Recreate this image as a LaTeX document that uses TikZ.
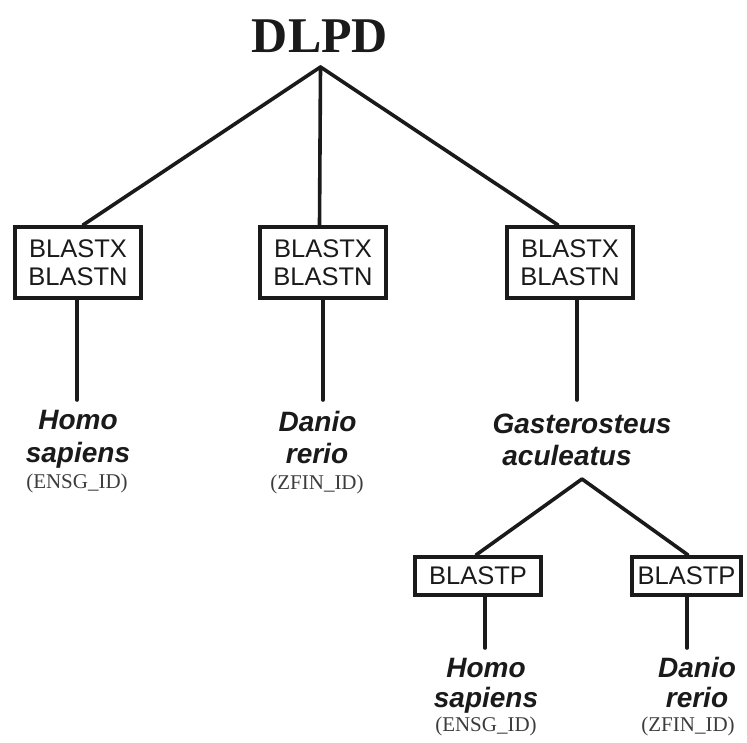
\documentclass[tikz,border=0pt]{standalone}
\usepackage{fontspec}
\newfontfamily\sansf{Liberation Sans}
\newfontfamily\serf{Liberation Serif}
\usetikzlibrary{calc}
\definecolor{ink}{HTML}{1A1A1A}
\definecolor{idgray}{HTML}{3C3C3C}
\begin{document}
\begin{tikzpicture}[x=1pt,y=-1pt,
  conn/.style={draw=ink, line width=3.6pt, line cap=round},
  blbox/.style={draw=ink, fill=white, line width=4pt, inner sep=0pt, minimum width=126pt, minimum height=71pt,
    font=\sansf\fontsize{25.5}{28}\selectfont, align=center, text=ink},
  bpbox/.style={draw=ink, fill=white, line width=4pt, inner sep=0pt, minimum height=38pt,
    font=\sansf\fontsize{25.5}{28}\selectfont, text=ink},
  sp/.style={anchor=base, inner sep=0pt, font=\sansf\bfseries\itshape\fontsize{28}{32}\selectfont, text=ink},
  idt/.style={anchor=base, inner sep=0pt, font=\serf\fontsize{21}{24}\selectfont, text=idgray},
  title/.style={anchor=base, inner sep=0pt, font=\serf\bfseries\fontsize{50}{60}\selectfont, text=ink}]
\useasboundingbox (0,0) rectangle (747,742);

% title
\node[title] (dlpd) at (320,52) {DLPD};
\coordinate (apex) at (320.5,67);

% first level boxes
\node[blbox] (bx1) at (78,262.5) {BLASTX\\BLASTN};
\node[blbox] (bx2) at (323,262.5) {BLASTX\\BLASTN};
\node[blbox] (bx3) at (570,262.5) {BLASTX\\BLASTN};

% species
\node[sp] (h1a) at (78,429) {Homo};
\node[sp] (h1b) at (78,462) {sapiens};
\node[idt] (h1c) at (77,488) {(ENSG\_ID)};
\node[sp] (d2a) at (317.5,431) {Danio};
\node[sp] (d2b) at (317,463) {rerio};
\node[idt] (d2c) at (317,489) {(ZFIN\_ID)};
\node[sp] (g3a) at (582,433) {Gasterosteus};
\node[sp] (g3b) at (567,465) {aculeatus};
\coordinate (gapex) at (582,479);

% second level boxes
\node[bpbox, minimum width=126pt] (bp1) at (478,576) {BLASTP};
\node[bpbox, minimum width=109pt] (bp2) at (686.5,576) {BLASTP};

\node[sp] (h4a) at (486,677) {Homo};
\node[sp] (h4b) at (486,707) {sapiens};
\node[idt] (h4c) at (486,731) {(ENSG\_ID)};
\node[sp] (d5a) at (697,677) {Danio};
\node[sp] (d5b) at (697,707) {rerio};
\node[idt] (d5c) at (688,731) {(ZFIN\_ID)};

% free ends
\coordinate (e1) at (77,400);
\coordinate (e2) at (323,400);
\coordinate (e3) at (577,400);
\coordinate (e4) at (485,648);
\coordinate (e5) at (687,648);

% connectors
\draw[conn] (apex) -- ($(bx1.north)+(5,0)$);
\draw[conn] (apex) -- ($(bx2.north)+(-3.5,0)$);
\draw[conn] (apex) -- ($(bx3.north)+(-12,0)$);
\draw[conn] (bx1.south -| e1) -- (e1);
\draw[conn] (bx2.south -| e2) -- (e2);
\draw[conn] (bx3.south -| e3) -- (e3);
\draw[conn] (gapex) -- ($(bp1.north)+(-2,0)$);
\draw[conn] (gapex) -- ($(bp2.north)+(1.5,0)$);
\draw[conn] (bp1.south -| e4) -- (e4);
\draw[conn] (bp2.south -| e5) -- (e5);

% redraw boxes on top of connector ends
\node[blbox] at (bx1) {BLASTX\\BLASTN};
\node[blbox] at (bx2) {BLASTX\\BLASTN};
\node[blbox] at (bx3) {BLASTX\\BLASTN};
\node[bpbox, minimum width=126pt] at (bp1) {BLASTP};
\node[bpbox, minimum width=109pt] at (bp2) {BLASTP};
\end{tikzpicture}
\end{document}
